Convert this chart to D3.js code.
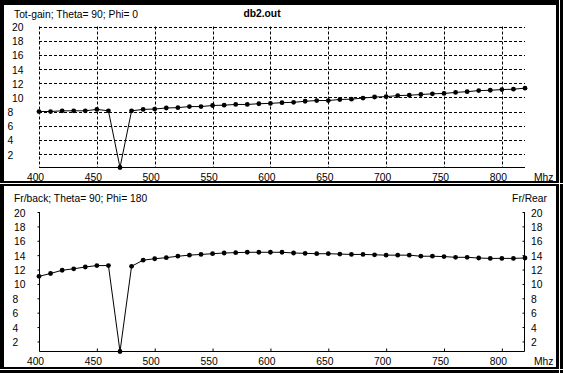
<!DOCTYPE html>
<html>
<head>
<meta charset="utf-8">
<script src="https://cdn.jsdelivr.net/npm/d3@7"></script>
<style>
  body { margin: 0; background: #000; }
  svg { display: block; }
  text { font-family: "Liberation Sans", Arial, sans-serif; font-size: 10.3px; fill: #000; }
</style>
</head>
<body>
<div id="chart-area"></div>
<script>
// frequencies, Mhz
var freqs = [400, 410, 420, 430, 440, 450, 460, 470, 480, 490,
             500, 510, 520, 530, 540, 550, 560, 570, 580, 590,
             600, 610, 620, 630, 640, 650, 660, 670, 680, 690,
             700, 710, 720, 730, 740, 750, 760, 770, 780, 790,
             800, 810, 820];

// total gain, dB
var gain = [8.0, 8.0, 8.1, 8.1, 8.1, 8.3, 8.1, 0.1, 8.1, 8.3,
            8.35, 8.5, 8.55, 8.7, 8.7, 8.85, 8.9, 9.0, 9.0, 9.1,
            9.15, 9.25, 9.3, 9.45, 9.55, 9.55, 9.7, 9.75, 9.9, 10.05,
            10.1, 10.25, 10.3, 10.4, 10.5, 10.55, 10.7, 10.8, 10.95, 11.0,
            11.1, 11.15, 11.3];

// front / back ratio, dB
var frback = [11.05, 11.45, 11.9, 12.1, 12.35, 12.55, 12.55, 0.6, 12.45, 13.3,
              13.5, 13.65, 13.85, 14.0, 14.1, 14.2, 14.3, 14.35, 14.4, 14.4,
              14.4, 14.4, 14.3, 14.25, 14.2, 14.2, 14.15, 14.1, 14.1, 14.05,
              14.0, 14.0, 14.0, 13.85, 13.85, 13.8, 13.7, 13.7, 13.6, 13.55,
              13.55, 13.55, 13.6];

var xTicks = [400, 450, 500, 550, 600, 650, 700, 750, 800];
var yTicks = [2, 4, 6, 8, 10, 12, 14, 16, 18, 20];

var W = 563, H = 373;

var svg = d3.select("#chart-area")
    .append("svg")
    .attr("width", W)
    .attr("height", H);

svg.append("rect").attr("width", W).attr("height", H).attr("fill", "#000");

// panel frames
function frame(y0, y1) {
    svg.append("rect")
        .attr("x", 4).attr("y", y0)
        .attr("width", 552).attr("height", y1 - y0)
        .attr("fill", "#fff");
}
frame(5, 181);
frame(186, 367);
// thin light edges of the window frame
svg.append("line").attr("x1", 559.5).attr("x2", 559.5).attr("y1", 0).attr("y2", H)
    .attr("stroke", "#fff");
svg.append("line").attr("x1", 0).attr("x2", W).attr("y1", 183.5).attr("y2", 183.5)
    .attr("stroke", "#fff");
svg.append("line").attr("x1", 0).attr("x2", W).attr("y1", 369.5).attr("y2", 369.5)
    .attr("stroke", "#fff");

var x = d3.scaleLinear()
    .domain([400, 820])
    .range([39, 525]);

function drawSeries(g, y, values) {
    var line = d3.line()
        .x(function (d, i) { return x(freqs[i]); })
        .y(function (d) { return y(d); });

    g.append("path")
        .datum(values)
        .attr("fill", "none")
        .attr("stroke", "#000")
        .attr("stroke-width", 1)
        .attr("d", line);

    g.selectAll("circle")
        .data(values)
        .enter()
        .append("circle")
        .attr("cx", function (d, i) { return x(freqs[i]); })
        .attr("cy", function (d) { return y(d); })
        .attr("r", 2.4)
        .attr("fill", "#000");
}

function xLabels(g, yPos) {
    g.selectAll(".xl")
        .data(xTicks)
        .enter()
        .append("text")
        .attr("x", function (d) { return x(d) - 3.5; })
        .attr("y", yPos)
        .attr("text-anchor", "middle")
        .attr("dominant-baseline", "central")
        .text(function (d) { return d; });

    g.append("text")
        .attr("x", 534)
        .attr("y", yPos)
        .attr("dominant-baseline", "central")
        .text("Mhz");
}

// ---------- top panel: total gain ----------
var gTop = svg.append("g");
var y1 = d3.scaleLinear()
    .domain([d3.min(gain), 20])
    .range([167.5, 26.5]);

// dashed grid
gTop.selectAll(".hg")
    .data(yTicks)
    .enter()
    .append("line")
    .attr("x1", x(400)).attr("x2", x(820))
    .attr("y1", function (d) { return Math.round(y1(d)) + 0.5; })
    .attr("y2", function (d) { return Math.round(y1(d)) + 0.5; })
    .attr("stroke", "#000")
    .attr("stroke-dasharray", "3,2");

gTop.selectAll(".vg")
    .data(xTicks)
    .enter()
    .append("line")
    .attr("x1", function (d) { return Math.round(x(d)) + 0.5; })
    .attr("x2", function (d) { return Math.round(x(d)) + 0.5; })
    .attr("y1", y1(20)).attr("y2", y1.range()[0])
    .attr("stroke", "#000")
    .attr("stroke-dasharray", "3,2");

gTop.append("line")
    .attr("x1", x(400)).attr("x2", x(820))
    .attr("y1", 167.5).attr("y2", 167.5)
    .attr("stroke", "#000");

gTop.selectAll(".yl")
    .data(yTicks)
    .enter()
    .append("text")
    .attr("x", function (d) { return d >= 10 ? 12 : 7.5; })
    .attr("y", function (d) { return y1(d) + 1; })
    .attr("dominant-baseline", "central")
    .text(function (d) { return d; });

xLabels(gTop, 177.5);
drawSeries(gTop, y1, gain);

gTop.append("text")
    .attr("x", 14).attr("y", 14)
    .attr("dominant-baseline", "central")
    .text("Tot-gain; Theta= 90; Phi= 0");

gTop.append("text")
    .attr("x", 262).attr("y", 13)
    .attr("text-anchor", "middle")
    .attr("dominant-baseline", "central")
    .style("font-weight", "bold")
    .text("db2.out");

// ---------- bottom panel: front/back ----------
var gBot = svg.append("g");
var y2 = d3.scaleLinear()
    .domain([d3.min(frback), 20])
    .range([351.5, 212]);

gBot.append("g")
    .attr("transform", "translate(" + (x(400) + 0.5) + ",0)")
    .call(d3.axisLeft(y2).tickValues(yTicks).tickSize(2).tickFormat(""))
    .call(function (a) { a.select(".domain").remove(); });

gBot.append("g")
    .attr("transform", "translate(524.5,0)")
    .call(d3.axisLeft(y2).tickValues(yTicks).tickSize(2).tickFormat(""))
    .call(function (a) { a.select(".domain").remove(); });

gBot.append("g")
    .attr("transform", "translate(0,351.5)")
    .call(d3.axisTop(x).tickValues(xTicks.slice(1)).tickSize(3).tickFormat(""))
    .call(function (a) { a.select(".domain").remove(); });

gBot.append("path")
    .attr("d", "M" + (x(400) + 0.5) + "," + y2(20) + "V351.5H524.5V" + y2(20))
    .attr("fill", "none")
    .attr("stroke", "#000");

gBot.selectAll(".yl")
    .data(yTicks)
    .enter()
    .append("text")
    .attr("x", function (d) { return d >= 10 ? 14 : 12.5; })
    .attr("y", function (d) { return y2(d) + 1; })
    .attr("dominant-baseline", "central")
    .text(function (d) { return d; });

gBot.selectAll(".yr")
    .data(yTicks)
    .enter()
    .append("text")
    .attr("x", 531)
    .attr("y", function (d) { return y2(d) + 1; })
    .attr("dominant-baseline", "central")
    .text(function (d) { return d; });

xLabels(gBot, 361);
drawSeries(gBot, y2, frback);

gBot.append("text")
    .attr("x", 14).attr("y", 198.5)
    .attr("dominant-baseline", "central")
    .text("Fr/back; Theta= 90; Phi= 180");

gBot.append("text")
    .attr("x", 547).attr("y", 198.5)
    .attr("text-anchor", "end")
    .attr("dominant-baseline", "central")
    .text("Fr/Rear");
</script>
</body>
</html>
